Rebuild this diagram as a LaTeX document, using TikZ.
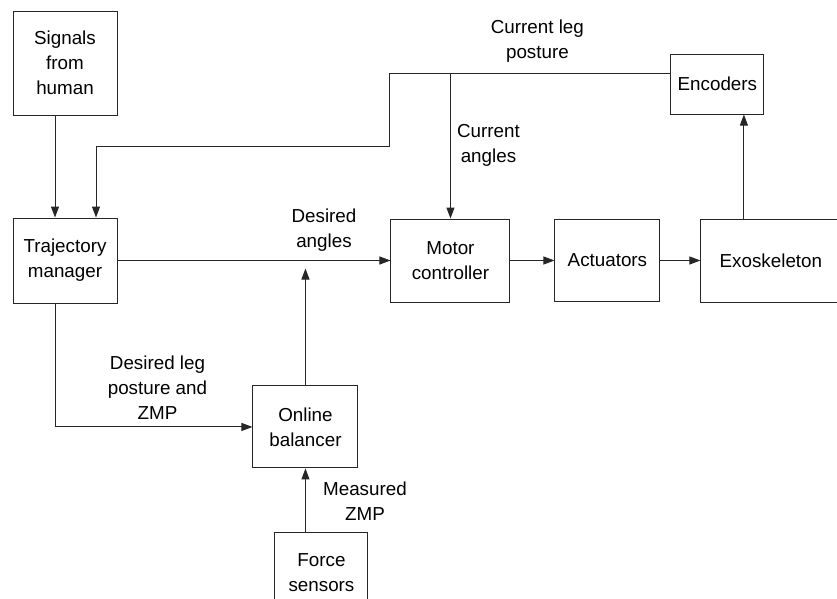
\documentclass[tikz,border=0pt]{standalone}
\usepackage{fontspec}
\setmainfont{Liberation Sans}
\usepackage{tikz}
\usetikzlibrary{positioning,arrows.meta,calc}
\tikzset{
  blk/.style ={draw=black!85, fill=white, align=center, line width=0.55pt,
               font=\fontsize{10.7pt}{14.2pt}\selectfont, inner sep=2pt},
  lbl/.style ={align=center, font=\fontsize{10.7pt}{14.2pt}\selectfont, inner sep=0pt},
  ar/.style  ={-{Triangle[length=2.2mm,width=1.6mm]}, draw=black!85, line width=0.55pt},
}
\begin{document}
\begin{tikzpicture}[node distance=8mm]
\useasboundingbox (0,0) rectangle (167.4mm,-119.8mm);
\clip (0,0) rectangle (167.4mm,-119.8mm);

\node[blk,minimum width=20.8mm,minimum height=17mm] (traj) at (13mm,-52.1mm) {Trajectory\\ manager};
\node[blk,above=20.4mm of traj,minimum width=20.8mm,minimum height=20.8mm] (sig) {Signals\\ from\\ human};
\node[blk,right=54.6mm of traj,minimum width=23.8mm,minimum height=16.6mm] (motor) {Motor\\ controller};
\node[blk,right=8.8mm of motor,minimum width=21mm,minimum height=16.4mm] (act) {Actuators};
\node[blk,right=of act,minimum width=28mm,minimum height=16.6mm] (exo) {Exoskeleton};
\node[blk,above=20.8mm of exo,xshift=-10.7mm,minimum width=18.6mm,minimum height=12mm] (enc) {Encoders};
\node[blk,below right=16.4mm and 27mm of traj,minimum width=21mm,minimum height=16.4mm] (bal) {Online\\ balancer};
\node[blk,below=12.8mm of bal,xshift=3.2mm,minimum width=18.6mm,minimum height=16mm] (force) {Force\\ sensors};

% feedback from encoders
\coordinate (fb) at ($(enc.west)+(0,2.2mm)$);
\coordinate (fbx) at ($(fb)+(-56.2mm,-14.6mm)$);
\draw[ar] (fb) -| (fbx) -| ($(traj.north)+(6.2mm,0)$);
\draw[ar] (motor.north |- fb) -- (motor.north);
\node[lbl] (clp) at ($(fb)+(-26.6mm,6.4mm)$) {Current leg\\ posture};
\node[lbl] (ca) at ($(motor.north)+(7.6mm,14.6mm)$) {Current\\ angles};

\draw[ar] ($(sig.south)+(-2mm,0)$) -- ($(traj.north)+(-2mm,0)$);
\draw[ar] (traj) -- (motor);
\draw[ar] (motor) -- (act);
\draw[ar] (act) -- (exo);
\coordinate (up) at ($(exo.north)+(-5.4mm,0)$);
\draw[ar] (up) -- (up |- enc.south);

% balancer
\coordinate (da) at ($(bal.north |- traj.east)+(0,-1.6mm)$);
\draw[ar] (bal) -- (da);
\node[lbl] (dang) at ($(da)+(3.7mm,7.7mm)$) {Desired\\ angles};
\draw[ar] ($(traj.south)+(-2mm,0)$) |- (bal.west);
\node[lbl] (dlp) at ($(bal.west)+(-19mm,7.8mm)$) {Desired leg\\ posture and\\ ZMP};
\draw[ar] (bal.south |- force.north) -- (bal.south);
\node[lbl] (mz) at ($(bal.south)+(11.9mm,-6.6mm)$) {Measured\\ ZMP};
\end{tikzpicture}
\end{document}
